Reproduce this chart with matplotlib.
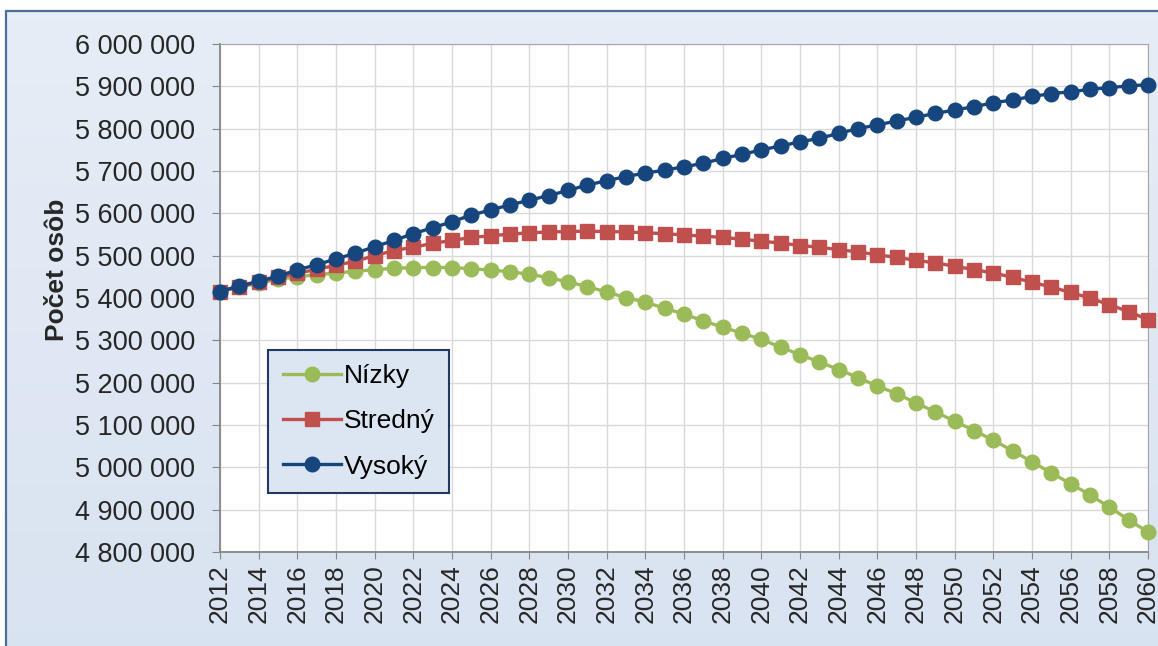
import numpy as np
import matplotlib.pyplot as plt
from matplotlib.patches import Rectangle
from matplotlib.ticker import FuncFormatter, MultipleLocator

plt.rcParams['font.family'] = ['Liberation Sans', 'DejaVu Sans']

years = list(range(2012, 2061))

nizky = [5415000, 5426000, 5435000, 5444000, 5450000, 5455000, 5459000, 5463000,
         5467000, 5470000, 5472000, 5472000, 5472000, 5469000, 5466000, 5462000,
         5456000, 5448000, 5438000, 5427000, 5414000, 5401000, 5390000, 5376000,
         5362000, 5346000, 5331000, 5317000, 5302000, 5284000, 5266000, 5249000,
         5231000, 5212000, 5192000, 5174000, 5152000, 5131000, 5109000, 5087000,
         5064000, 5039000, 5013000, 4987000, 4961000, 4935000, 4906000, 4876000,
         4847000]

stredny = [5415000, 5427000, 5437000, 5449000, 5458000, 5468000, 5477000, 5487000,
           5500000, 5512000, 5520000, 5529000, 5536000, 5543000, 5547000, 5551000,
           5554000, 5556000, 5557000, 5558000, 5557000, 5556000, 5554000, 5552000,
           5549000, 5546000, 5543000, 5539000, 5534000, 5530000, 5524000, 5520000,
           5514000, 5509000, 5502000, 5496000, 5489000, 5483000, 5475000, 5467000,
           5459000, 5449000, 5437000, 5426000, 5413000, 5400000, 5384000, 5368000,
           5349000]

vysoky = [5415000, 5429000, 5439000, 5452000, 5466000, 5479000, 5492000, 5506000,
          5521000, 5536000, 5552000, 5566000, 5580000, 5596000, 5608000, 5620000,
          5631000, 5642000, 5654000, 5667000, 5677000, 5687000, 5695000, 5702000,
          5710000, 5718000, 5730000, 5739000, 5750000, 5759000, 5769000, 5777000,
          5789000, 5800000, 5809000, 5818000, 5827000, 5836000, 5844000, 5852000,
          5861000, 5868000, 5876000, 5883000, 5887000, 5893000, 5897000, 5901000,
          5904000]

series_names = ['Nízky', 'Stredný', 'Vysoký']

fig = plt.figure(figsize=(11.58, 6.46), dpi=100)

# light blue gradient background with a frame
bg = fig.add_axes([0, 0, 1, 1], zorder=-10)
top_c = np.array([0.90, 0.93, 0.965])
bot_c = np.array([0.85, 0.89, 0.945])
t = np.linspace(0, 1, 200)[:, None]
grad = (top_c * (1 - t) + bot_c * t)[:, None, :]
bg.imshow(grad, aspect='auto', extent=[6 / 1158, 1, 0, 1 - 11 / 646])
bg.add_patch(Rectangle((6 / 1158, -0.01), 1.0, 1 - 11 / 646 + 0.01,
                       fill=False, edgecolor='#4f6f99', linewidth=1.6))
bg.set_xlim(0, 1)
bg.set_ylim(0, 1)
bg.axis('off')

ax = fig.add_axes([220 / 1158, 94 / 646, 928 / 1158, 508 / 646])
ax.set_facecolor('white')

ax.plot(years, nizky, color='#9bbb59', marker='o', ms=10.5, lw=2.4,
        label=series_names[0], clip_on=False, zorder=3)
ax.plot(years, stredny, color='#c0504d', marker='s', ms=9.5, lw=2.4,
        label=series_names[1], clip_on=False, zorder=4)
ax.plot(years, vysoky, color='#17467e', marker='o', ms=10.5, lw=2.4,
        label=series_names[2], clip_on=False, zorder=5)

ax.set_xlim(2012, 2060)
ax.set_ylim(4800000, 6000000)
ax.xaxis.set_major_locator(MultipleLocator(2))
ax.yaxis.set_major_locator(MultipleLocator(100000))
ax.yaxis.set_major_formatter(FuncFormatter(lambda v, p: f'{int(v):,}'.replace(',', ' ')))
ax.grid(True, color='#d9d9d9', lw=1)
ax.set_axisbelow(True)

for s in ax.spines.values():
    s.set_color('#a6a6a6')
ax.spines['left'].set_color('#868686')
ax.spines['bottom'].set_color('#868686')
ax.spines['left'].set_linewidth(1.3)
ax.spines['bottom'].set_linewidth(1.3)

ax.tick_params(axis='x', labelrotation=90, labelsize=19, colors='#868686',
               labelcolor='#262626', length=5, pad=4)
ax.tick_params(axis='y', labelsize=19.5, colors='#868686', labelcolor='#262626',
               length=6, pad=12)

ax.set_ylabel('Počet osôb', fontsize=19, fontweight='bold', color='#262626')
ax.yaxis.set_label_coords(-0.163, 0.555)

leg = ax.legend(loc='upper left', bbox_to_anchor=(0.052, 0.398), borderaxespad=0,
                fontsize=19, fancybox=False, framealpha=1, handlelength=2.2,
                handletextpad=0.1, labelspacing=0.8, borderpad=0.55)
leg.get_frame().set_facecolor('#dce6f2')
leg.get_frame().set_edgecolor('#1f3864')
leg.get_frame().set_linewidth(1.5)

plt.savefig('out.png', dpi=100)
